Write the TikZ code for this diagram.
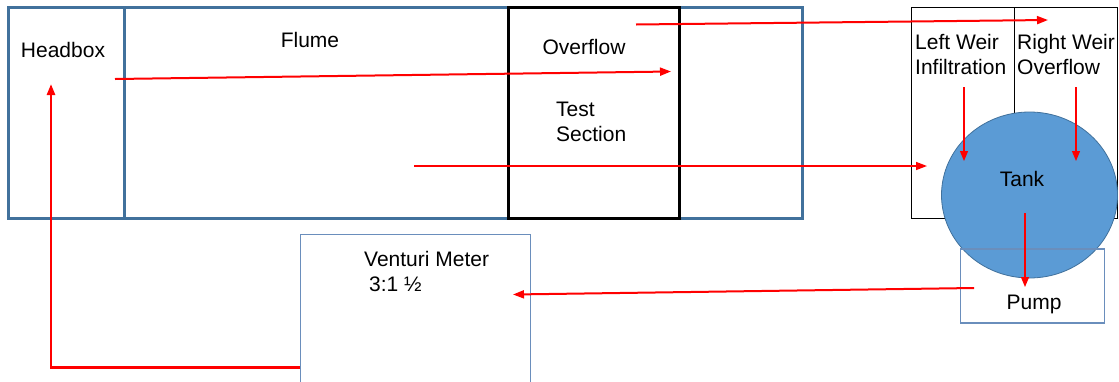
\documentclass[tikz,border=0pt]{standalone}
\usepackage{fontspec}
\setmainfont{Liberation Sans}
\usetikzlibrary{arrows.meta,shapes.geometric}
\definecolor{steel}{HTML}{41719C}
\definecolor{tankfill}{HTML}{5B9BD5}
\definecolor{lightsteel}{HTML}{6A8EBC}
\definecolor{arrred}{HTML}{FF0000}
\tikzset{
  box/.style={draw, anchor=north west, inner sep=0pt, outer sep=0pt},
  lbl/.style={font=\fontsize{21}{25}\selectfont, inner sep=0pt},
  flow/.style={draw=arrred, line width=2pt, -{Triangle[length=11pt,width=8pt]}},
  thinflow/.style={draw=arrred, line width=1.2pt, -{Triangle[length=10pt,width=8pt]}},
}
\begin{document}
\begin{tikzpicture}[x=1pt,y=-1pt]
\useasboundingbox (0,0) rectangle (1119,381);
% flume
\node[box, draw=steel, line width=3pt, minimum width=794pt, minimum height=211pt] (flume) at (8,7.5) {};
\coordinate (divtop) at (124,7.5);
\coordinate (divbot) at (124,218.5);
\draw[steel, line width=3pt] (divtop) -- (divbot);
% test section
\node[box, draw=black, line width=3pt, minimum width=171pt, minimum height=211pt] (test) at (508.5,7.5) {};
% weir box
\node[box, draw=black, line width=1pt, minimum width=206pt, minimum height=211pt] (weir) at (911,7.5) {};
\coordinate (wdtop) at (1014,7.5);
\coordinate (wdbot) at (1014,218.5);
\draw[black, line width=1pt] (wdtop) -- (wdbot);
% venturi
\node[box, draw=lightsteel, line width=1.5pt, minimum width=230pt, minimum height=170pt] (venturi) at (300.5,234.5) {};
% tank
\node[ellipse, draw=steel, line width=0.8pt, fill=tankfill, minimum width=176pt, minimum height=166pt, inner sep=0pt, outer sep=0pt] (tank) at (1029.5,195) {};
% pump
\node[box, draw=lightsteel, line width=1.5pt, minimum width=144pt, minimum height=74pt] (pump) at (960.5,249) {};
% labels
\node[lbl] (headbox) at (63,50) {Headbox};
\node[lbl] (flumelbl) at (310,40) {Flume};
\node[lbl] (overflow) at (584,47) {Overflow};
\node[lbl, align=left, anchor=west] (testlbl) at (556,122) {Test\\Section};
\node[lbl, align=left, anchor=west] (leftweir) at (915,54.5) {Left Weir\\Infiltration};
\node[lbl, align=left, anchor=west] (rightweir) at (1017,54.5) {Right Weir\\Overflow};
\node[lbl] (tanklbl) at (1022,179) {Tank};
\node[lbl] (pumplbl) at (1034,304) {Pump};
\node[lbl, anchor=west] (venturilbl) at (364,259) {Venturi Meter};
\node[lbl, anchor=west] (ratiolbl) at (369,284) {3:1 ½};
% arrow coordinates
\coordinate (a1s) at (115,79);
\coordinate (a1e) at (671,71.5);
\coordinate (a2s) at (636,24.5);
\coordinate (a2e) at (1048,20);
\coordinate (a3s) at (414,166);
\coordinate (a3e) at (927,166);
\coordinate (a4s) at (964,87);
\coordinate (a4e) at (964,161);
\coordinate (a5s) at (1076,87);
\coordinate (a5e) at (1076,161);
\coordinate (a6s) at (1025,213);
\coordinate (a6e) at (1025,287);
\coordinate (a7s) at (974,288);
\coordinate (a7e) at (513,294.5);
\coordinate (a8s) at (300,367.5);
\coordinate (a8c) at (51,367.5);
\coordinate (a8e) at (51,84);
% arrows
\draw[flow] (a1s) -- (a1e);
\draw[flow] (a2s) -- (a2e);
\draw[flow, line width=1.5pt] (a3s) -- (a3e);
\draw[thinflow] (a4s) -- (a4e);
\draw[thinflow] (a5s) -- (a5e);
\draw[thinflow] (a6s) -- (a6e);
\draw[flow] (a7s) -- (a7e);
\draw[flow, line width=2.5pt] (a8s) -- (a8c) -- (a8e);
\end{tikzpicture}
\end{document}
